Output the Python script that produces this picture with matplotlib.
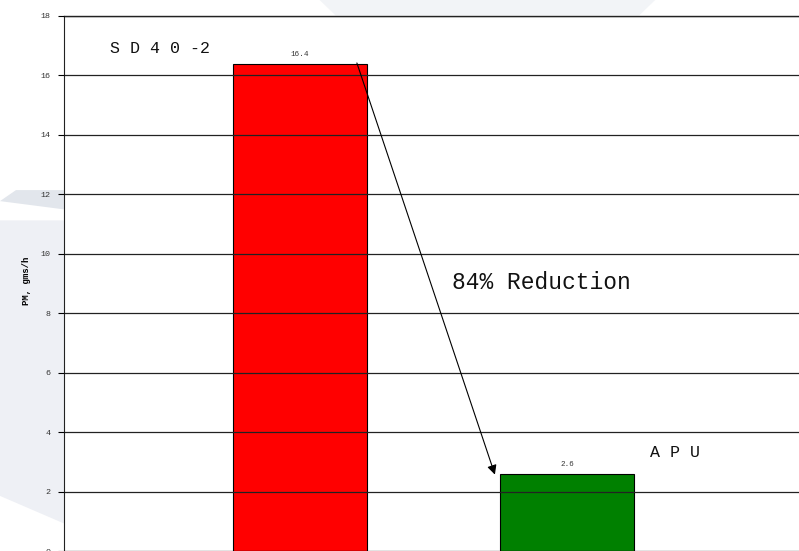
import matplotlib

matplotlib.use("Agg")

import matplotlib.pyplot as plt
from matplotlib.patches import Polygon

# datos
engines = ["SD40-2", "APU"]
pm_values = [16.4, 2.6]
bar_colors = ["#ff0000", "#008000"]
y_ticks = [0, 2, 4, 6, 8, 10, 12, 14, 16, 18]

MONO = "Liberation Mono"
W, H = 799, 551

fig = plt.figure(figsize=(W / 100, H / 100), dpi=100)
fig.patch.set_facecolor("white")

# marca de agua tenue del fondo
for pts, col in [
    ([(0, 0.60), (0.08, 0.60), (0.08, 0.05), (0, 0.10)], "#eef0f5"),
    ([(0, 0.635), (0.02, 0.655), (0.08, 0.655), (0.08, 0.62)], "#e2e6ec"),
    ([(0.40, 1.0), (0.82, 1.0), (0.80, 0.972), (0.42, 0.972)], "#f2f4f7"),
]:
    fig.patches.append(Polygon(pts, closed=True, transform=fig.transFigure,
                               facecolor=col, edgecolor="none", zorder=-5))

ax = fig.add_axes([64 / W, 0.0, 1 - 64 / W, (H - 16) / H])
ax.set_facecolor("white")

x = [0, 1]
bars = ax.bar(x, pm_values, width=0.5, color=bar_colors, edgecolor="black",
              linewidth=0.8, zorder=1)

ax.set_xlim(-0.884, 1.869)
ax.set_ylim(0, 18)
ax.set_yticks(y_ticks)
ax.set_yticklabels([str(t) for t in y_ticks], fontsize=6, color="#333333",
                   fontfamily=MONO)
ax.tick_params(axis="y", length=4, width=0.8, direction="out", pad=6)
ax.set_xticks([])

ax.set_axisbelow(False)
ax.yaxis.grid(True, color="#222222", linewidth=0.9)

for side in ["right", "bottom"]:
    ax.spines[side].set_visible(False)
ax.spines["left"].set_color("#222222")
ax.spines["top"].set_color("#222222")
ax.spines["top"].set_linewidth(1.0)

ax.set_ylabel("PM, gms/h", fontsize=6.5, fontweight="bold", fontfamily=MONO)
ax.yaxis.set_label_coords(-0.045, 0.505)

for xi, v in zip(x, pm_values):
    ax.text(xi, v + 0.2, f"{v}", ha="center", va="bottom", fontsize=5.5,
            color="#333333", fontfamily=MONO)

ax.text(-0.71, 16.9, "S D 4 0 -2", fontsize=12, fontfamily=MONO, color="#111111",
        ha="left", va="center")
ax.text(1.31, 3.3, "A P U", fontsize=12, fontfamily=MONO, color="#111111",
        ha="left", va="center")
ax.text(0.57, 9.05, "84% Reduction", fontsize=16.5, fontfamily=MONO, color="#111111",
        ha="left", va="center")

ax.annotate("", xy=(0.73, 2.57), xytext=(0.213, 16.42),
            arrowprops=dict(arrowstyle="-|>", color="black", lw=0.8,
                            mutation_scale=14, shrinkA=0, shrinkB=0))

fig.savefig("out.png", dpi=100, facecolor=fig.get_facecolor())
plt.close(fig)
